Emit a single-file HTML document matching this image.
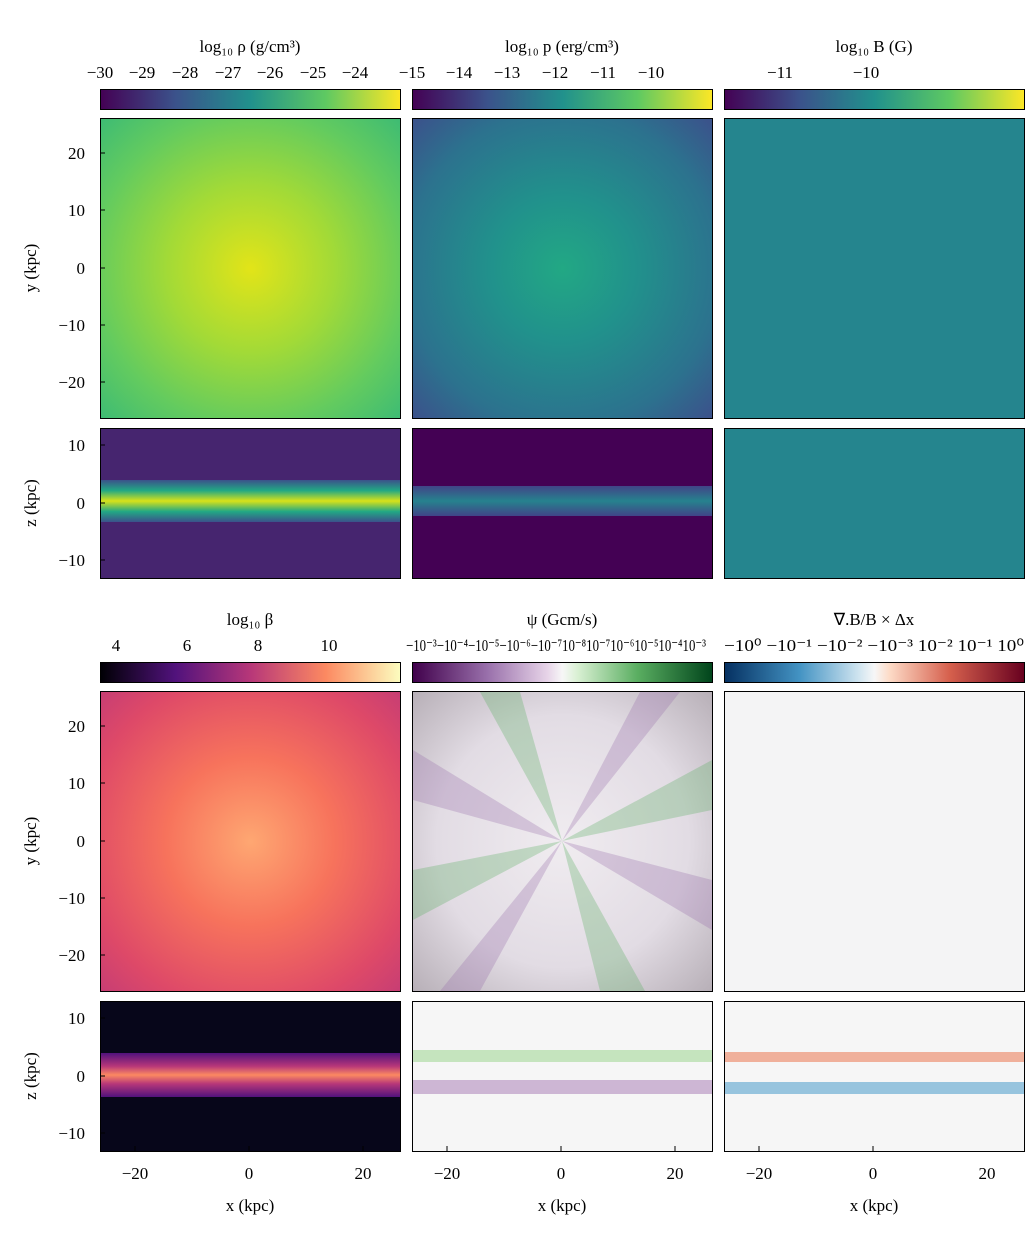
<!DOCTYPE html>
<html><head><style>body{margin:0;background:#fff}text{font-family:"Liberation Serif",serif;font-size:17px;fill:#000}</style></head><body>
<svg width="1036" height="1252" xmlns="http://www.w3.org/2000/svg">
<defs>
<linearGradient id="vir"><stop offset="0" stop-color="#440154"/><stop offset=".25" stop-color="#3b528b"/><stop offset=".5" stop-color="#21918c"/><stop offset=".75" stop-color="#5ec962"/><stop offset="1" stop-color="#fde725"/></linearGradient>
<linearGradient id="mag"><stop offset="0" stop-color="#000004"/><stop offset=".25" stop-color="#51127c"/><stop offset=".5" stop-color="#b73779"/><stop offset=".75" stop-color="#fc8961"/><stop offset="1" stop-color="#fcfdbf"/></linearGradient>
<linearGradient id="prg"><stop offset="0" stop-color="#40004b"/><stop offset=".25" stop-color="#9970ab"/><stop offset=".45" stop-color="#e7d4e8"/><stop offset=".5" stop-color="#f7f7f7"/><stop offset=".55" stop-color="#d9f0d3"/><stop offset=".75" stop-color="#5aae61"/><stop offset="1" stop-color="#00441b"/></linearGradient>
<linearGradient id="rdbu"><stop offset="0" stop-color="#053061"/><stop offset=".25" stop-color="#4393c3"/><stop offset=".45" stop-color="#d1e5f0"/><stop offset=".5" stop-color="#f7f7f7"/><stop offset=".55" stop-color="#fddbc7"/><stop offset=".75" stop-color="#d6604d"/><stop offset="1" stop-color="#67001f"/></linearGradient>
<radialGradient id="rho" cx=".5" cy=".5" r=".7"><stop offset="0" stop-color="#e2e418"/><stop offset=".4" stop-color="#a2da37"/><stop offset=".75" stop-color="#63cb5f"/><stop offset="1" stop-color="#3fbc73"/></radialGradient>
<radialGradient id="pr" cx=".5" cy=".5" r=".7"><stop offset="0" stop-color="#22a884"/><stop offset=".35" stop-color="#21918c"/><stop offset=".75" stop-color="#2c728e"/><stop offset="1" stop-color="#3b528b"/></radialGradient>
<radialGradient id="bet" cx=".5" cy=".5" r=".7"><stop offset="0" stop-color="#fea772"/><stop offset=".4" stop-color="#f7735c"/><stop offset=".8" stop-color="#de4968"/><stop offset="1" stop-color="#c83e73"/></radialGradient>
<radialGradient id="psi" cx=".5" cy=".5" r=".7"><stop offset="0" stop-color="#f0ecf0"/><stop offset=".6" stop-color="#e2dce4"/><stop offset="1" stop-color="#b8b0b8"/></radialGradient>
<linearGradient id="band1" x1="0" y1="0" x2="0" y2="1"><stop offset="0" stop-color="#3b528b"/><stop offset=".25" stop-color="#22a884"/><stop offset=".5" stop-color="#d8e219"/><stop offset=".75" stop-color="#22a884"/><stop offset="1" stop-color="#3b528b"/></linearGradient>
<linearGradient id="band2" x1="0" y1="0" x2="0" y2="1"><stop offset="0" stop-color="#414487"/><stop offset=".5" stop-color="#26828e"/><stop offset="1" stop-color="#414487"/></linearGradient>
<linearGradient id="band4" x1="0" y1="0" x2="0" y2="1"><stop offset="0" stop-color="#51127c"/><stop offset=".3" stop-color="#b73779"/><stop offset=".5" stop-color="#fc8961"/><stop offset=".7" stop-color="#b73779"/><stop offset="1" stop-color="#51127c"/></linearGradient>
</defs>
<g fill="none" stroke="#000" stroke-width="1">
<rect x="100.5" y="89.5" width="300" height="20" fill="url(#vir)"/>
<rect x="412.5" y="89.5" width="300" height="20" fill="url(#vir)"/>
<rect x="724.5" y="89.5" width="300" height="20" fill="url(#vir)"/>
<rect x="100.5" y="662.5" width="300" height="20" fill="url(#mag)"/>
<rect x="412.5" y="662.5" width="300" height="20" fill="url(#prg)"/>
<rect x="724.5" y="662.5" width="300" height="20" fill="url(#rdbu)"/>
<rect x="100.5" y="118.5" width="300" height="300" fill="url(#rho)"/>
<rect x="412.5" y="118.5" width="300" height="300" fill="url(#pr)"/>
<rect x="724.5" y="118.5" width="300" height="300" fill="#25858e"/>
<rect x="100.5" y="428.5" width="300" height="150" fill="#46256f"/>
<rect x="101" y="480" width="299" height="42" fill="url(#band1)" stroke="none"/>
<rect x="412.5" y="428.5" width="300" height="150" fill="#440154"/>
<rect x="413" y="486" width="299" height="30" fill="url(#band2)" stroke="none"/>
<rect x="724.5" y="428.5" width="300" height="150" fill="#25858e"/>
<rect x="100.5" y="691.5" width="300" height="300" fill="url(#bet)"/>
<rect x="412.5" y="691.5" width="300" height="300" fill="url(#psi)"/>
<rect x="724.5" y="691.5" width="300" height="300" fill="#f4f4f5"/>
<rect x="100.5" y="1001.5" width="300" height="150" fill="#07061a"/>
<rect x="101" y="1053" width="299" height="44" fill="url(#band4)" stroke="none"/>
<rect x="412.5" y="1001.5" width="300" height="150" fill="#f6f6f6"/>
<rect x="413" y="1050" width="299" height="12" fill="#b9e0b0" stroke="none" opacity=".8"/>
<rect x="413" y="1080" width="299" height="14" fill="#c3a6cc" stroke="none" opacity=".8"/>
<rect x="724.5" y="1001.5" width="300" height="150" fill="#f6f6f6"/>
<rect x="725" y="1052" width="299" height="10" fill="#ef9f84" stroke="none" opacity=".8"/>
<rect x="725" y="1082" width="299" height="12" fill="#80b8d8" stroke="none" opacity=".8"/>
</g>
<g opacity=".3">
<polygon points="562,841 413,750 413,800" fill="#9970ab"/><polygon points="562,841 712,880 712,930" fill="#9970ab"/>
<polygon points="562,841 520,692 480,692" fill="#5aae61"/><polygon points="562,841 600,991 645,991" fill="#5aae61"/>
<polygon points="562,841 413,870 413,920" fill="#5aae61"/><polygon points="562,841 712,760 712,810" fill="#5aae61"/>
<polygon points="562,841 640,692 680,692" fill="#9970ab"/><polygon points="562,841 480,991 440,991" fill="#9970ab"/>
</g>
<!-- axis ticks -->
<g stroke="#000" stroke-width="1">
<path d="M135,1151v-5M249,1151v-5M363,1151v-5M447,1151v-5M561,1151v-5M675,1151v-5M759,1151v-5M873,1151v-5"/>
<path d="M100,153h5M100,210h5M100,268h5M100,325h5M100,382h5M100,445h5M100,503h5M100,560h5M100,726h5M100,783h5M100,841h5M100,898h5M100,955h5M100,1018h5M100,1076h5M100,1133h5"/>
</g>
<g text-anchor="middle">
<text x="250" y="52">log₁₀ ρ (g/cm³)</text>
<text x="562" y="52">log₁₀ p (erg/cm³)</text>
<text x="874" y="52">log₁₀ B (G)</text>
<text x="250" y="625">log₁₀ β</text>
<text x="562" y="625">ψ (Gcm/s)</text>
<text x="874" y="625">∇.B/B × Δx</text>
<text x="100" y="78">−30</text><text x="142" y="78">−29</text><text x="185" y="78">−28</text><text x="228" y="78">−27</text><text x="270" y="78">−26</text><text x="313" y="78">−25</text><text x="355" y="78">−24</text>
<text x="412" y="78">−15</text><text x="459" y="78">−14</text><text x="507" y="78">−13</text><text x="555" y="78">−12</text><text x="603" y="78">−11</text><text x="651" y="78">−10</text>
<text x="780" y="78">−11</text><text x="866" y="78">−10</text>
<text x="116" y="651">4</text><text x="187" y="651">6</text><text x="258" y="651">8</text><text x="329" y="651">10</text>
<text x="556" y="651" textLength="300" lengthAdjust="spacingAndGlyphs">−10⁻³−10⁻⁴−10⁻⁵−10⁻⁶−10⁻⁷10⁻⁸10⁻⁷10⁻⁶10⁻⁵10⁻⁴10⁻³</text>
<text x="874" y="651" textLength="300" lengthAdjust="spacingAndGlyphs">−10⁰ −10⁻¹ −10⁻² −10⁻³ 10⁻² 10⁻¹ 10⁰</text>
<text x="135" y="1179">−20</text><text x="249" y="1179">0</text><text x="363" y="1179">20</text>
<text x="447" y="1179">−20</text><text x="561" y="1179">0</text><text x="675" y="1179">20</text>
<text x="759" y="1179">−20</text><text x="873" y="1179">0</text><text x="987" y="1179">20</text>
<text x="250" y="1211">x (kpc)</text><text x="562" y="1211">x (kpc)</text><text x="874" y="1211">x (kpc)</text>
</g>
<g text-anchor="end">
<text x="85" y="159">20</text><text x="85" y="216">10</text><text x="85" y="274">0</text><text x="85" y="331">−10</text><text x="85" y="388">−20</text>
<text x="85" y="451">10</text><text x="85" y="509">0</text><text x="85" y="566">−10</text>
<text x="85" y="732">20</text><text x="85" y="789">10</text><text x="85" y="847">0</text><text x="85" y="904">−10</text><text x="85" y="961">−20</text>
<text x="85" y="1024">10</text><text x="85" y="1082">0</text><text x="85" y="1139">−10</text>
</g>
<text transform="translate(36,268) rotate(-90)" text-anchor="middle">y (kpc)</text>
<text transform="translate(36,503) rotate(-90)" text-anchor="middle">z (kpc)</text>
<text transform="translate(36,841) rotate(-90)" text-anchor="middle">y (kpc)</text>
<text transform="translate(36,1076) rotate(-90)" text-anchor="middle">z (kpc)</text>
</svg>
</body></html>
